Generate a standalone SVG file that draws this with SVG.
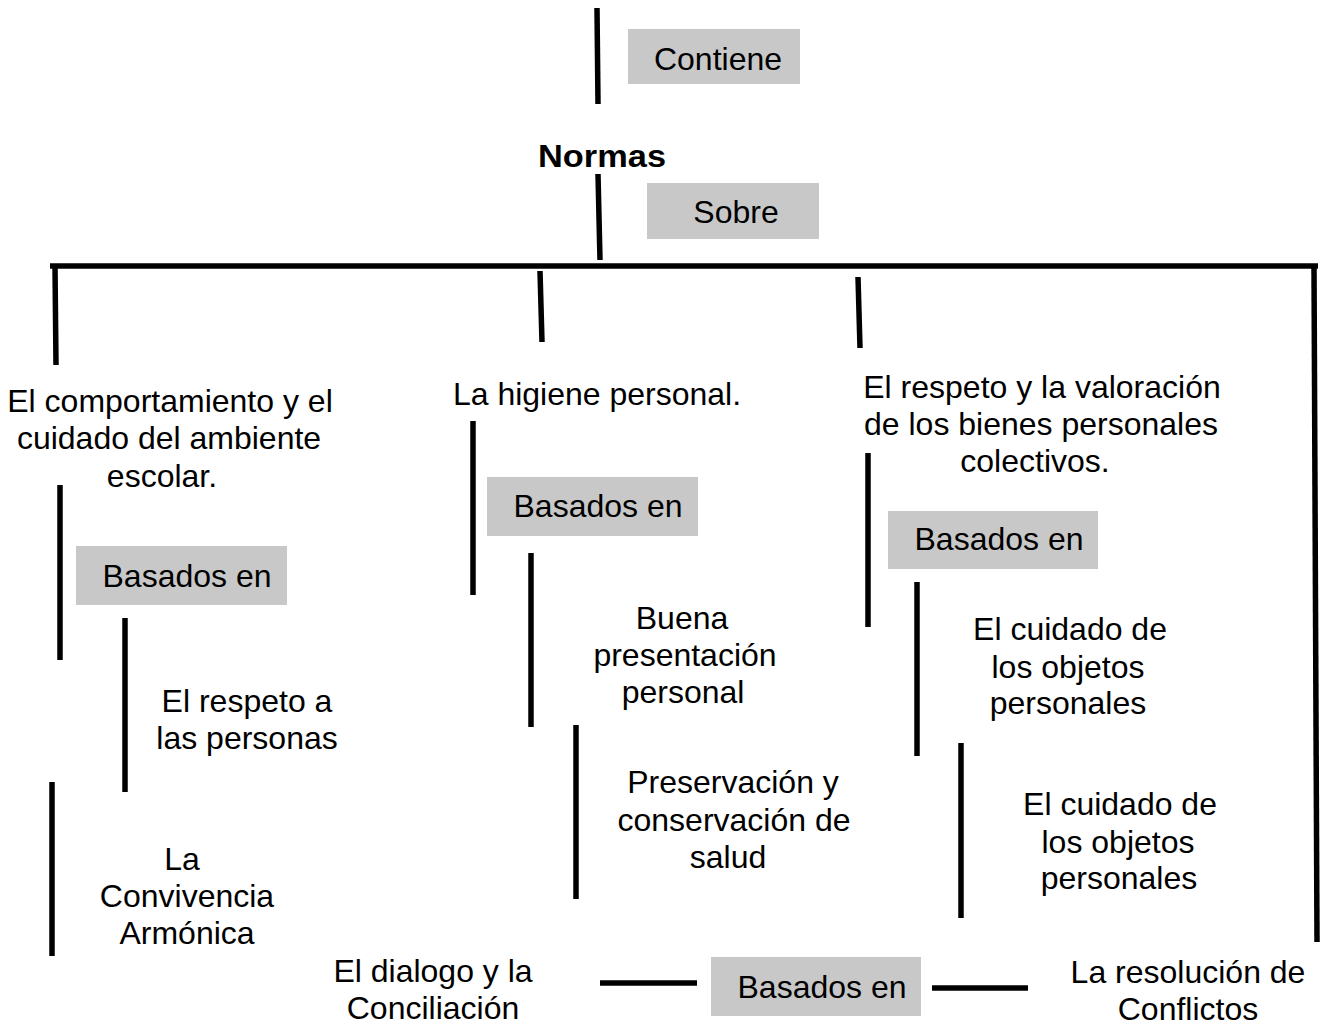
<svg xmlns="http://www.w3.org/2000/svg" width="1325" height="1025" viewBox="0 0 1325 1025">
<style>
text{font-family:"Liberation Sans",Arial,sans-serif;font-size:32px;fill:#000;text-anchor:middle}
.b{font-weight:bold}
.box{fill:#c8c8c8}
.ln{stroke:#000;stroke-width:5.5;fill:none}
</style>
<rect width="1325" height="1025" fill="#fff"/>
<g id="connectors">
<line class="ln" x1="597" y1="8" x2="598" y2="104"/>
<line class="ln" x1="598" y1="174" x2="600" y2="260"/>
<line class="ln" x1="50" y1="266" x2="1318" y2="266"/>
<line class="ln" x1="55" y1="266" x2="56" y2="365"/>
<line class="ln" x1="540" y1="271" x2="542" y2="342"/>
<line class="ln" x1="858" y1="277" x2="860" y2="348"/>
<line class="ln" x1="1314" y1="266" x2="1317" y2="942"/>
<line class="ln" x1="60" y1="485" x2="60" y2="660"/>
<line class="ln" x1="125" y1="618" x2="125" y2="792"/>
<line class="ln" x1="52" y1="782" x2="52" y2="956"/>
<line class="ln" x1="473" y1="421" x2="473" y2="595"/>
<line class="ln" x1="531" y1="553" x2="531" y2="727"/>
<line class="ln" x1="576" y1="725" x2="576" y2="899"/>
<line class="ln" x1="868" y1="453" x2="868" y2="627"/>
<line class="ln" x1="917" y1="582" x2="917" y2="756"/>
<line class="ln" x1="961" y1="743" x2="961" y2="918"/>
<line class="ln" x1="600" y1="983" x2="697" y2="983"/>
<line class="ln" x1="932" y1="988" x2="1028" y2="988"/>
</g>
<g id="contiene"><rect class="box" x="628" y="29" width="172" height="55"/><text x="718" y="70">Contiene</text></g>
<g id="normas"><text class="b" x="602" y="167" textLength="128" lengthAdjust="spacingAndGlyphs">Normas</text></g>
<g id="sobre"><rect class="box" x="647" y="183" width="172" height="56"/><text x="736" y="223">Sobre</text></g>
<g id="comportamiento"><text x="170" y="412">El comportamiento y el</text><text x="169" y="449">cuidado del ambiente</text><text x="162" y="487">escolar.</text></g>
<g id="basados1"><rect class="box" x="76" y="546" width="211" height="59"/><text x="187" y="587">Basados en</text></g>
<g id="respeto-personas"><text x="247" y="712">El respeto a</text><text x="247" y="749">las personas</text></g>
<g id="convivencia"><text x="182" y="870">La</text><text x="187" y="907">Convivencia</text><text x="187" y="944">Armónica</text></g>
<g id="higiene"><text x="597" y="405">La higiene personal.</text></g>
<g id="basados2"><rect class="box" x="487" y="477" width="211" height="59"/><text x="598" y="517">Basados en</text></g>
<g id="buena"><text x="682" y="629">Buena</text><text x="685" y="666">presentación</text><text x="683" y="703">personal</text></g>
<g id="preservacion"><text x="733" y="793">Preservación y</text><text x="734" y="831">conservación de</text><text x="728" y="868">salud</text></g>
<g id="respeto-bienes"><text x="1042" y="398">El respeto y la valoración</text><text x="1041" y="435">de los bienes personales</text><text x="1035" y="472">colectivos.</text></g>
<g id="basados3"><rect class="box" x="888" y="511" width="210" height="58"/><text x="999" y="550">Basados en</text></g>
<g id="cuidado1"><text x="1070" y="640">El cuidado de</text><text x="1068" y="678">los objetos</text><text x="1068" y="714">personales</text></g>
<g id="cuidado2"><text x="1120" y="815">El cuidado de</text><text x="1118" y="853">los objetos</text><text x="1119" y="889">personales</text></g>
<g id="dialogo"><text x="433" y="982">El dialogo y la</text><text x="433" y="1019">Conciliación</text></g>
<g id="basados4"><rect class="box" x="711" y="957" width="210" height="59"/><text x="822" y="998">Basados en</text></g>
<g id="resolucion"><text x="1188" y="983">La resolución de</text><text x="1188" y="1020">Conflictos</text></g>
</svg>
